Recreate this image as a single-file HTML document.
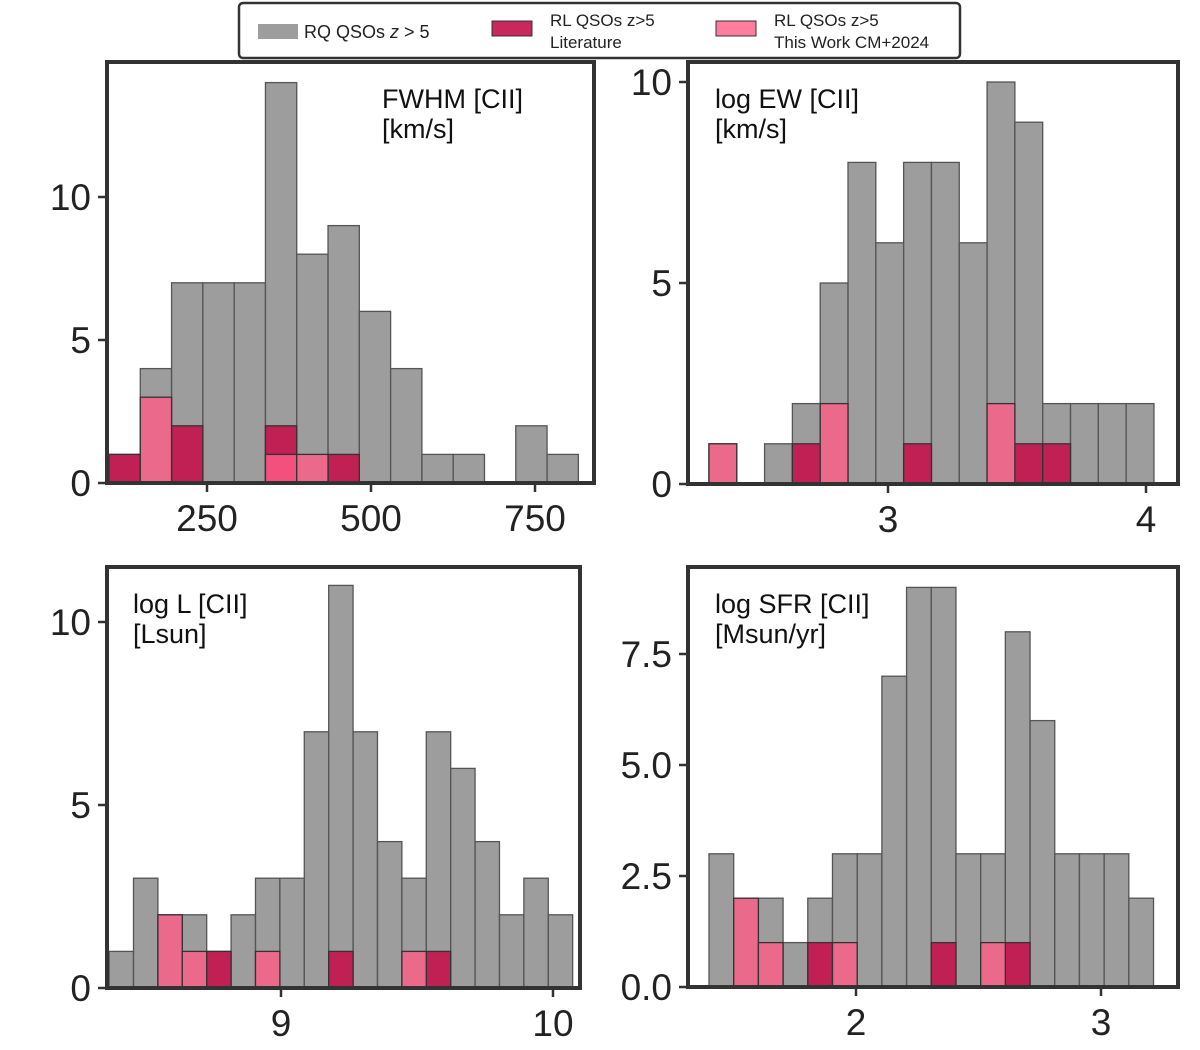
<!DOCTYPE html>
<html><head><meta charset="utf-8"><style>
body{margin:0;background:#fff;font-family:"Liberation Sans",Arial,sans-serif}
svg{display:block}
</style></head><body>
<svg id="c" width="1200" height="1050"></svg>
<script>
// Panel data (bin start, bin width in data units, counts)
const p1Gray=[1,4,7,7,7,14,8,9,6,4,1,1,0,2,1];
const p1Lit=[1,0,2,0,0,2,0,1,0,0,0,0,0,0,0];
const p1Pink=[0,3,0,0,0,1,1,0,0,0,0,0,0,0,0];
const p2Gray=[1,0,1,2,5,8,6,8,8,6,10,9,2,2,2,2];
const p2Lit=[0,0,0,1,0,0,0,1,0,0,0,1,1,0,0,0];
const p2Pink=[1,0,0,0,2,0,0,0,0,0,2,0,0,0,0,0];
const p3Gray=[1,3,2,2,1,2,3,3,7,11,7,4,3,7,6,4,2,3,2];
const p3Lit=[0,0,0,0,1,0,0,0,0,1,0,0,0,1,0,0,0,0,0];
const p3Pink=[0,0,2,1,0,0,1,0,0,0,0,0,1,0,0,0,0,0,0];
const p4Gray=[3,2,2,1,2,3,3,7,9,9,3,3,8,6,3,3,3,2];
const p4Lit=[0,0,0,0,1,0,0,0,0,1,0,0,1,0,0,0,0,0];
const p4Pink=[0,2,1,0,0,1,0,0,0,0,0,1,0,0,0,0,0,0];
const xTicks1=[250,500,750], yTicks1=[0,5,10];
const xTicks2=[3,4], yTicks2=[0,5,10];
const xTicks3=[9,10], yTicks3=[0,5,10];
const xTicks4=[2,3], yTicks4=[0,2.5,5,7.5];
const yLabels4=["0.0","2.5","5.0","7.5"];

const svg=document.getElementById('c');
const NS='http://www.w3.org/2000/svg';
function mk(t,a,parent){const e=document.createElementNS(NS,t);for(const k in a)e.setAttribute(k,a[k]);(parent||svg).appendChild(e);return e;}

const panels=[
 {name:'fwhm',fx:107,fy:62,fw:487,fh:421,x0:250,px0:207,x1:500,px1:371,ypu:28.6,start:100.6,bw:47.7,g:p1Gray,l:p1Lit,p:p1Pink,xt:xTicks1,yt:yTicks1,yl:null,t1:'FWHM [CII]',t2:'[km/s]',tx:382},
 {name:'log-ew',fx:688,fy:62,fw:490,fh:422,x0:3,px0:888,x1:4,px1:1146,ypu:40.2,start:2.306,bw:0.1078,g:p2Gray,l:p2Lit,p:p2Pink,xt:xTicks2,yt:yTicks2,yl:null,t1:'log EW [CII]',t2:'[km/s]',tx:715},
 {name:'log-l',fx:107,fy:567,fw:473,fh:421,x0:9,px0:281,x1:10,px1:553,ypu:36.6,start:8.368,bw:0.0897,g:p3Gray,l:p3Lit,p:p3Pink,xt:xTicks3,yt:yTicks3,yl:null,t1:'log L [CII]',t2:'[Lsun]',tx:133},
 {name:'log-sfr',fx:688,fy:567,fw:490,fh:420,x0:2,px0:856,x1:3,px1:1101,ypu:44.4,start:1.4,bw:0.1008,g:p4Gray,l:p4Lit,p:p4Pink,xt:xTicks4,yt:yTicks4,yl:yLabels4,t1:'log SFR [CII]',t2:'[Msun/yr]',tx:715}
];
panels.forEach(P=>{
  const g=mk('g',{});
  
  
  const sx=v=>P.px0+(v-P.x0)*(P.px1-P.px0)/(P.x1-P.x0);
  const base=P.fy+P.fh;
  const sy=v=>base-v*P.ypu;
  function bars(arr,fill,op,stroke,nm){
    arr.forEach((c,i)=>{ if(!c)return;
      const a=sx(P.start+i*P.bw), b=sx(P.start+(i+1)*P.bw);
      const r=mk('rect',{x:a,y:sy(c),width:b-a,height:c*P.ypu,fill:fill,'fill-opacity':op,stroke:stroke,'stroke-width':1.3},g);
      
      
    });
  }
  bars(P.g,'#848484',0.8,'#555','rq-qso');
  bars(P.l,'#c4164f',0.92,'#333','rl-literature');
  bars(P.p,'#ff5c87',0.8,'#333','rl-this-work');
  const f=mk('rect',{x:P.fx,y:P.fy,width:P.fw,height:P.fh,fill:'none',stroke:'#333','stroke-width':4},g);
  
  
  P.xt.forEach(v=>{
    const x=sx(v);
    mk('line',{x1:x,x2:x,y1:base,y2:base+9,stroke:'#333','stroke-width':2.5},g);
    const t=mk('text',{x:x,y:base+48,'text-anchor':'middle','font-size':37,fill:'#222'},g);
    t.textContent=v;
    
    
  });
  P.yt.forEach((v,i)=>{
    const y=sy(v);
    mk('line',{x1:P.fx,x2:P.fx-9,y1:y,y2:y,stroke:'#333','stroke-width':2.5},g);
    const t=mk('text',{x:P.fx-16,y:y+13,'text-anchor':'end','font-size':37,fill:'#222'},g);
    t.textContent=P.yl?P.yl[i]:v;
    
    
  });
  const t1=mk('text',{x:P.tx,y:P.fy+46,'font-size':27,fill:'#111'},g);
  t1.textContent=P.t1;
  
  
  const t2=mk('text',{x:P.tx,y:P.fy+76,'font-size':27,fill:'#111'},g);
  t2.textContent=P.t2;
  
  
});
// legend
const lg=mk('g',{});


mk('rect',{x:239,y:3,width:721,height:55,rx:4,fill:'#fff',stroke:'#333','stroke-width':2.5},lg);
const items=[
 {x:258,c:'#848484',o:0.8,l1:'RQ QSOs z >  5',l2:'',nm:'legend-entry-rq'},
 {x:492,c:'#c4164f',o:0.92,l1:'RL QSOs z>5',l2:'Literature',nm:'legend-entry-literature'},
 {x:716,c:'#ff5c87',o:0.8,l1:'RL QSOs z>5',l2:'This Work CM+2024',nm:'legend-entry-this-work'}];
items.forEach(it=>{
  const e=mk('g',{},lg);
  
  
  mk('rect',{x:it.x,y:it.l2?21:24,width:40,height:15,fill:it.c,'fill-opacity':it.o,stroke:it.l2?'#333':'none'},e);
  if(!it.l2){const t=mk('text',{x:it.x+46,y:38,'font-size':18,fill:'#222'},e);t.innerHTML='RQ QSOs <tspan font-style="italic">z</tspan> &gt;  5';}
  else{const a=mk('text',{x:it.x+58,y:26,'font-size':17,fill:'#222'},e);a.textContent=it.l1;
       const b=mk('text',{x:it.x+58,y:48,'font-size':17,fill:'#222'},e);b.textContent=it.l2;}
});
</script>
</body></html>
